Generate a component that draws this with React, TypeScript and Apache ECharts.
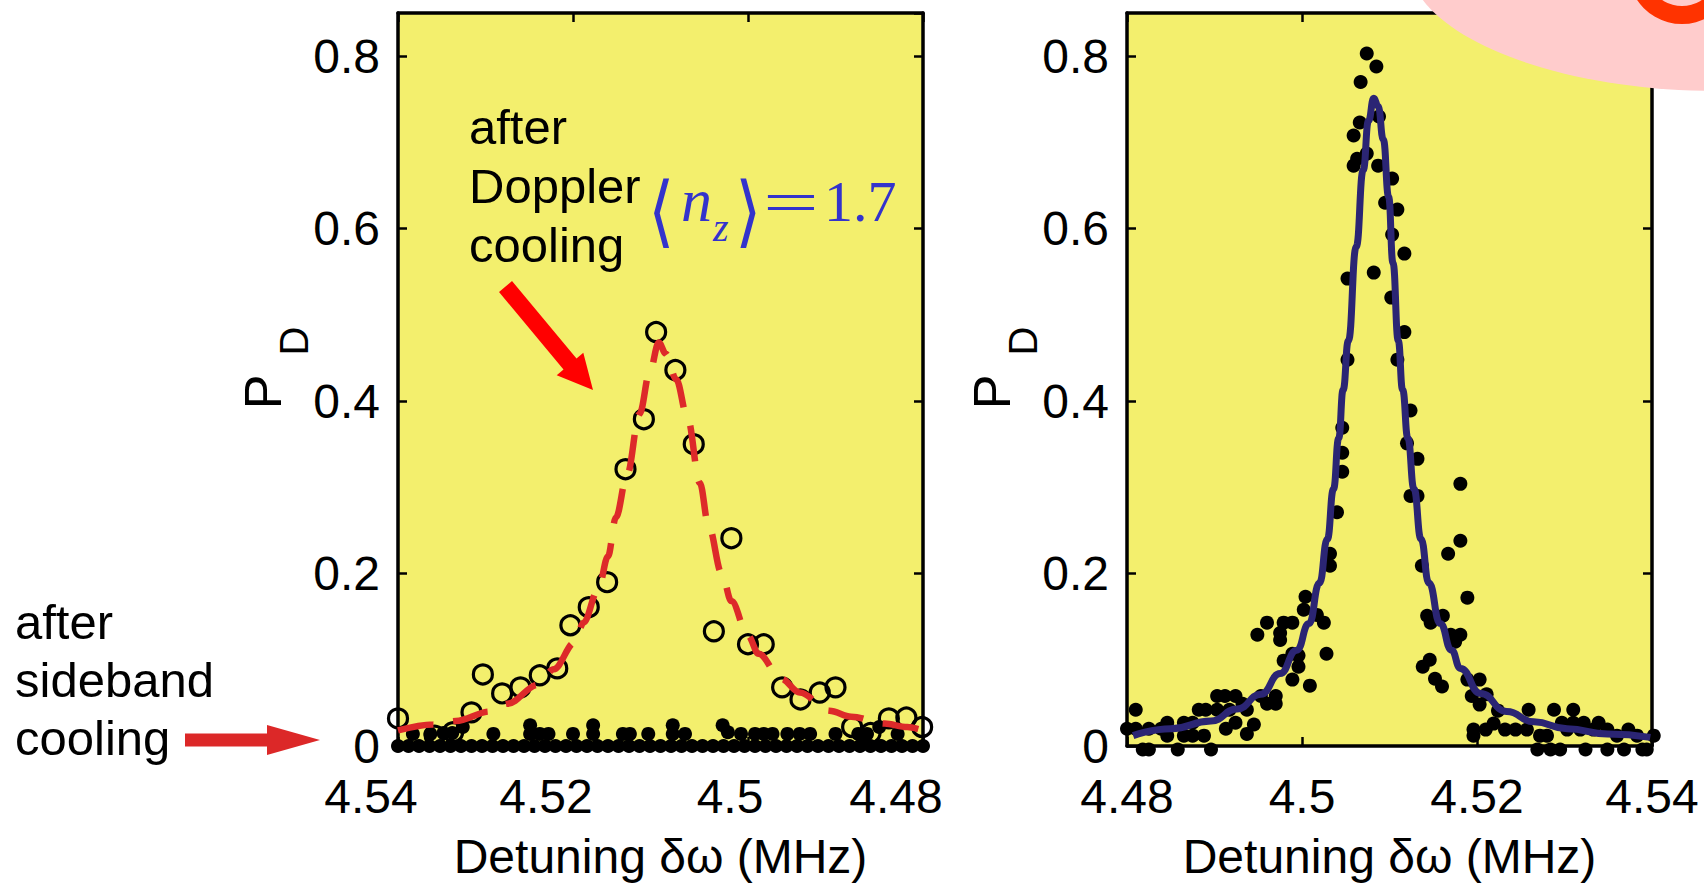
import React, { useEffect, useRef } from 'react';
import * as echarts from 'echarts';

// ---------- data ----------
const xTickValues = [4.48, 4.5, 4.52, 4.54];
const yTickValues = [0, 0.2, 0.4, 0.6, 0.8];

// left panel: after Doppler cooling (open circles)
const dopplerPoints: [number, number][] = [
  [4.5400, 0.032], [4.5358, 0.012], [4.5337, 0.016], [4.5316, 0.039], [4.5303, 0.083],
  [4.5281, 0.061], [4.5260, 0.068], [4.5238, 0.082], [4.5218, 0.090], [4.5203, 0.140],
  [4.5182, 0.161], [4.5161, 0.190], [4.5140, 0.321], [4.5119, 0.379], [4.5105, 0.480],
  [4.5083, 0.436], [4.5062, 0.350], [4.5039, 0.133], [4.5019, 0.241], [4.5000, 0.118],
  [4.4982, 0.118], [4.4961, 0.068], [4.4940, 0.054], [4.4918, 0.062], [4.4900, 0.068],
  [4.4881, 0.022], [4.4860, 0.015], [4.4839, 0.032], [4.4819, 0.033], [4.4801, 0.022],
];

// left panel: dashed fit curve
const dopplerFit: [number, number][] = [
  [4.5400, 0.018], [4.5360, 0.025], [4.5334, 0.029], [4.5295, 0.040], [4.5275, 0.049],
  [4.5240, 0.071], [4.5222, 0.089], [4.5198, 0.120], [4.5188, 0.143], [4.5171, 0.182],
  [4.5160, 0.220], [4.5151, 0.265], [4.5138, 0.315], [4.5124, 0.385], [4.5112, 0.435],
  [4.5102, 0.468], [4.5094, 0.455], [4.5082, 0.425], [4.5069, 0.380], [4.5055, 0.305],
  [4.5045, 0.255], [4.5030, 0.200], [4.5019, 0.168], [4.5000, 0.128], [4.4988, 0.107],
  [4.4962, 0.078], [4.4941, 0.062], [4.4907, 0.041], [4.4882, 0.034], [4.4844, 0.026],
  [4.4818, 0.022], [4.4800, 0.018],
];

// left panel: after sideband cooling (filled dots), row on zero
const sidebandZeroX: number[] = [
  4.5400, 4.5388, 4.5376, 4.5364, 4.5352, 4.5340, 4.5328, 4.5316, 4.5304, 4.5292,
  4.5280, 4.5268, 4.5256, 4.5244, 4.5232, 4.5220, 4.5208, 4.5196, 4.5184, 4.5172,
  4.5160, 4.5148, 4.5136, 4.5124, 4.5112, 4.5100, 4.5088, 4.5076, 4.5064, 4.5052,
  4.5040, 4.5028, 4.5016, 4.5004, 4.4992, 4.4980, 4.4968, 4.4956, 4.4944, 4.4932,
  4.4920, 4.4908, 4.4896, 4.4884, 4.4872, 4.4860, 4.4848, 4.4836, 4.4824, 4.4812,
  4.4800,
];

// left panel: sideband dots slightly above zero
const sidebandRaised: [number, number][] = [
  [4.5383, 0.014], [4.5363, 0.014], [4.5348, 0.015], [4.5338, 0.015], [4.5326, 0.022],
  [4.5291, 0.014], [4.5249, 0.024], [4.5249, 0.014], [4.5238, 0.014], [4.5228, 0.014],
  [4.5200, 0.014], [4.5177, 0.024], [4.5177, 0.014], [4.5143, 0.014], [4.5135, 0.014],
  [4.5114, 0.014], [4.5086, 0.024], [4.5086, 0.014], [4.5072, 0.014], [4.5029, 0.024],
  [4.5023, 0.016], [4.5008, 0.014], [4.4992, 0.014], [4.4982, 0.014], [4.4972, 0.014],
  [4.4955, 0.014], [4.4941, 0.014], [4.4929, 0.014], [4.4900, 0.014], [4.4874, 0.014],
  [4.4864, 0.014], [4.4850, 0.022], [4.4829, 0.014],
];

// right panel: measured points
const rightDots: [number, number][] = [
  // peak
  [4.5074, 0.803], [4.5085, 0.788], [4.5067, 0.770], [4.5088, 0.730], [4.5066, 0.723],
  [4.5059, 0.708], [4.5074, 0.687], [4.5063, 0.681], [4.5059, 0.673], [4.5087, 0.673],
  [4.5103, 0.658], [4.5095, 0.630], [4.5109, 0.622], [4.5103, 0.593], [4.5117, 0.571],
  [4.5082, 0.549], [4.5052, 0.542], [4.5102, 0.520], [4.5117, 0.480], [4.5052, 0.448],
  [4.5109, 0.448], [4.5124, 0.389], [4.5046, 0.369],
  // lower left
  [4.4800, 0.020], [4.4810, 0.042], [4.4810, 0.020], [4.4818, -0.004], [4.4825, -0.004],
  [4.4825, 0.020], [4.4839, 0.020], [4.4846, 0.027], [4.4846, 0.012], [4.4858, -0.004],
  [4.4865, 0.027], [4.4865, 0.012], [4.4875, 0.027], [4.4875, 0.012], [4.4882, 0.042],
  [4.4890, 0.042], [4.4888, 0.012], [4.4896, -0.004], [4.4903, 0.058], [4.4912, 0.058],
  [4.4903, 0.042], [4.4913, 0.020], [4.4917, 0.042], [4.4924, 0.058], [4.4924, 0.027],
  [4.4932, 0.049], [4.4937, 0.042], [4.4937, 0.014], [4.4945, 0.025], [4.4949, 0.129],
  [4.4953, 0.058], [4.4960, 0.143], [4.4960, 0.049], [4.4970, 0.049], [4.4970, 0.058],
  [4.4975, 0.131], [4.4975, 0.123], [4.4979, 0.143], [4.4989, 0.143], [4.4979, 0.099],
  [4.4989, 0.107], [4.4996, 0.092], [4.4989, 0.077], [4.4996, 0.105], [4.5004, 0.173],
  [4.5002, 0.158], [4.5017, 0.152], [4.5025, 0.143], [4.5028, 0.107], [4.5009, 0.070],
  [4.5032, 0.223], [4.5032, 0.209], [4.5040, 0.271], [4.5046, 0.318], [4.5046, 0.340],
  // lower right
  [4.5120, 0.351], [4.5132, 0.333], [4.5124, 0.290], [4.5132, 0.290], [4.5181, 0.304],
  [4.5181, 0.238], [4.5167, 0.223], [4.5137, 0.209], [4.5189, 0.172], [4.5143, 0.151],
  [4.5147, 0.143], [4.5161, 0.151], [4.5170, 0.129], [4.5181, 0.129], [4.5175, 0.121],
  [4.5146, 0.100], [4.5138, 0.092], [4.5152, 0.078], [4.5160, 0.069], [4.5189, 0.077],
  [4.5203, 0.077], [4.5194, 0.058], [4.5211, 0.060], [4.5203, 0.048], [4.5224, 0.041],
  [4.5196, 0.019], [4.5196, 0.012], [4.5210, 0.019], [4.5219, 0.026], [4.5232, 0.019],
  [4.5244, 0.019], [4.5259, 0.042], [4.5257, 0.019], [4.5272, 0.012], [4.5280, 0.012],
  [4.5288, 0.042], [4.5310, 0.042], [4.5297, 0.027], [4.5310, 0.027], [4.5322, 0.027],
  [4.5339, 0.027], [4.5349, 0.019], [4.5373, 0.019], [4.5402, 0.012], [4.5269, -0.004],
  [4.5284, -0.004], [4.5295, -0.004], [4.5324, -0.004], [4.5349, -0.004], [4.5368, -0.004],
  [4.5389, -0.004], [4.5394, -0.004], [4.5303, 0.019], [4.5318, 0.019], [4.5333, 0.019],
  [4.5360, 0.012], [4.5383, 0.012],
];

// right panel: solid fit curve
const rightFit: [number, number][] = [
  [4.4807, 0.012], [4.4850, 0.020], [4.4896, 0.029], [4.4926, 0.043], [4.4953, 0.060],
  [4.4975, 0.084], [4.4994, 0.111], [4.5008, 0.142], [4.5020, 0.189], [4.5029, 0.240],
  [4.5036, 0.298], [4.5042, 0.357], [4.5047, 0.413], [4.5053, 0.470], [4.5062, 0.579],
  [4.5070, 0.668], [4.5076, 0.725], [4.5082, 0.751], [4.5087, 0.742], [4.5093, 0.703],
  [4.5099, 0.637], [4.5104, 0.560], [4.5110, 0.470], [4.5115, 0.413], [4.5121, 0.357],
  [4.5128, 0.298], [4.5136, 0.240], [4.5145, 0.189], [4.5158, 0.142], [4.5171, 0.111],
  [4.5181, 0.090], [4.5204, 0.061], [4.5234, 0.040], [4.5265, 0.028], [4.5303, 0.020],
  [4.5349, 0.014], [4.5398, 0.010],
];

// ---------- styling ----------
const FONT = '"Liberation Sans", Arial, Helvetica, sans-serif';
const SERIF = '"Liberation Serif", "Times New Roman", serif';
const YELLOW = '#f3ef6d';
const X_MIN = xTickValues[0];
const X_MAX = xTickValues[xTickValues.length - 1];
const Y_MAX = 0.85;

const fmtX = (v: number) => String(parseFloat(v.toFixed(2)));
const fmtY = (v: number) => {
  const r = parseFloat(v.toFixed(2));
  if (!yTickValues.some((t) => Math.abs(t - r) < 1e-9)) return '';
  return r === 0 ? '0' : r.toFixed(1);
};

const tickStyle = { show: true, inside: true, length: 9, lineStyle: { color: '#000', width: 2.5 } };
const lineStyle = { show: true, onZero: false, lineStyle: { color: '#000', width: 3.5 } };

function xAxes(gridIndex: number, inverse: boolean, shifted: boolean) {
  const labelBase = { fontSize: 48, fontFamily: FONT, color: '#000' };
  return [
    {
      type: 'value', gridIndex, min: X_MIN, max: X_MAX, interval: 0.02, inverse, position: 'bottom',
      axisLine: lineStyle, axisTick: tickStyle, splitLine: { show: false },
      axisLabel: {
        show: true, margin: 26, showMinLabel: true, showMaxLabel: true,
        ...labelBase,
        formatter: (v: number) => {
          const s = fmtX(v);
          if (!shifted) return `{a|${s}}`;
          return s === '4.5' ? `{c|${s}}` : `{b|${s}}`;
        },
        rich: {
          a: { ...labelBase },
          b: { ...labelBase, padding: [0, 54, 0, 0] },
          c: { ...labelBase, padding: [0, 36, 0, 0] },
        },
      },
      name: 'Detuning δω (MHz)', nameLocation: 'middle', nameGap: 86,
      nameTextStyle: { color: '#000', fontSize: 48, fontFamily: FONT },
    },
    {
      type: 'value', gridIndex, min: X_MIN, max: X_MAX, interval: 0.02, inverse, position: 'top',
      axisLine: lineStyle, axisTick: tickStyle, axisLabel: { show: false }, splitLine: { show: false },
    },
  ];
}

function yAxes(gridIndex: number) {
  return [
    {
      type: 'value', gridIndex, min: 0, max: Y_MAX, interval: 0.2, position: 'left',
      axisLine: lineStyle, axisTick: tickStyle, splitLine: { show: false },
      axisLabel: {
        show: true, margin: 18, showMaxLabel: false, formatter: fmtY,
        fontSize: 48, fontFamily: FONT, color: '#000',
      },
    },
    {
      type: 'value', gridIndex, min: 0, max: Y_MAX, interval: 0.2, position: 'right',
      axisLine: lineStyle, axisTick: tickStyle, axisLabel: { show: false }, splitLine: { show: false },
    },
  ];
}

function pdLabel(dx: number) {
  return [
    {
      type: 'text', x: 263 + dx, y: 392, rotation: Math.PI / 2, z: 60,
      style: { text: 'P', fontSize: 52, fontFamily: FONT, fill: '#000', align: 'center', verticalAlign: 'middle' },
    },
    {
      type: 'text', x: 294 + dx, y: 341, rotation: Math.PI / 2, z: 60,
      style: { text: 'D', fontSize: 40, fontFamily: FONT, fill: '#000', align: 'center', verticalAlign: 'middle' },
    },
  ];
}

const dotStyle = { color: '#000', opacity: 1 };

function buildOption(): any {
  const BLUE = '#3333cc';
  return {
    animation: false,
    backgroundColor: '#ffffff',
    grid: [
      { left: 398, top: 13, width: 525, height: 733, show: true, backgroundColor: YELLOW, borderWidth: 0 },
      { left: 1127, top: 13, width: 525, height: 733, show: true, backgroundColor: YELLOW, borderWidth: 0 },
    ],
    xAxis: [...xAxes(0, true, true), ...xAxes(1, false, false)],
    yAxis: [...yAxes(0), ...yAxes(1)],
    series: [
      {
        type: 'scatter', xAxisIndex: 0, yAxisIndex: 0, silent: true, clip: false, z: 3,
        symbol: 'circle', symbolSize: 14, itemStyle: dotStyle,
        data: sidebandZeroX.map((x) => [x, 0]),
      },
      {
        type: 'scatter', xAxisIndex: 0, yAxisIndex: 0, silent: true, clip: false, z: 3,
        symbol: 'circle', symbolSize: 14, itemStyle: dotStyle,
        data: sidebandRaised,
      },
      {
        type: 'scatter', xAxisIndex: 0, yAxisIndex: 0, silent: true, clip: false, z: 4,
        symbol: 'circle', symbolSize: 19,
        itemStyle: { color: 'rgba(0,0,0,0)', borderColor: '#000', borderWidth: 3.2, opacity: 1 },
        data: dopplerPoints,
      },
      {
        type: 'line', xAxisIndex: 0, yAxisIndex: 0, silent: true, clip: false, z: 5,
        smooth: 0.35, smoothMonotone: 'x', showSymbol: false, symbol: 'none',
        lineStyle: { color: '#dd2a2a', width: 6.5, type: [36, 20], cap: 'butt', opacity: 1 },
        data: dopplerFit,
      },
      {
        type: 'scatter', xAxisIndex: 2, yAxisIndex: 2, silent: true, clip: false, z: 3,
        symbol: 'circle', symbolSize: 14, itemStyle: dotStyle,
        data: rightDots,
      },
      {
        type: 'line', xAxisIndex: 2, yAxisIndex: 2, silent: true, clip: false, z: 5,
        smooth: 0.5, smoothMonotone: 'x', showSymbol: false, symbol: 'none',
        lineStyle: { color: '#2b2574', width: 7, opacity: 1 },
        data: rightFit,
      },
    ],
    graphic: {
      elements: [
        // decoration at top right (part of a neighbouring figure)
        { type: 'ellipse', z: 50, shape: { cx: 1720, cy: -40, rx: 312, ry: 131 }, style: { fill: '#ffcccc' } },
        { type: 'ring', z: 51, shape: { cx: 1682, cy: -30, r: 54, r0: 36 }, style: { fill: '#ff3300' } },
        // y-axis titles
        ...pdLabel(0),
        ...pdLabel(729),
        // annotation: after Doppler cooling
        {
          type: 'text', x: 469, y: 97, z: 60,
          style: {
            text: 'after\nDoppler\ncooling', fontSize: 49, fontFamily: FONT, fill: '#000',
            lineHeight: 59, align: 'left', verticalAlign: 'top',
          },
        },
        {
          type: 'polygon', z: 60,
          shape: { points: [[512, 281], [576.5, 358.5], [583.3, 352.8], [593, 390], [556.7, 375.2], [563.5, 369.5], [499, 292]] },
          style: { fill: '#ff0000' },
        },
        // <n_z> = 1.7
        { type: 'text', x: 648, y: 211, z: 60, scaleY: 1.15, style: { text: '⟨', fontSize: 68, fontFamily: '"DejaVu Serif", serif', fill: BLUE, align: 'left', verticalAlign: 'middle' } },
        { type: 'text', x: 681, y: 200, z: 60, style: { text: 'n', fontSize: 62, fontStyle: 'italic', fontFamily: SERIF, fill: BLUE, align: 'left', verticalAlign: 'middle' } },
        { type: 'text', x: 713, y: 227, z: 60, style: { text: 'z', fontSize: 40, fontStyle: 'italic', fontFamily: SERIF, fill: BLUE, align: 'left', verticalAlign: 'middle' } },
        { type: 'text', x: 735, y: 211, z: 60, scaleY: 1.15, style: { text: '⟩', fontSize: 68, fontFamily: '"DejaVu Serif", serif', fill: BLUE, align: 'left', verticalAlign: 'middle' } },
        { type: 'text', x: 763, y: 202, z: 60, scaleX: 1.65, style: { text: '=', fontSize: 60, fontFamily: SERIF, fill: BLUE, align: 'left', verticalAlign: 'middle' } },
        { type: 'text', x: 824, y: 201, z: 60, style: { text: '1.7', fontSize: 58, fontFamily: SERIF, fill: BLUE, align: 'left', verticalAlign: 'middle' } },
        // annotation: after sideband cooling
        {
          type: 'text', x: 15, y: 593, z: 60,
          style: {
            text: 'after\nsideband\ncooling', fontSize: 49, fontFamily: FONT, fill: '#000',
            lineHeight: 58, align: 'left', verticalAlign: 'top',
          },
        },
        {
          type: 'polygon', z: 60,
          shape: { points: [[185, 733.5], [267, 733.5], [267, 725], [320, 740], [267, 755], [267, 746.5], [185, 746.5]] },
          style: { fill: '#dc2828' },
        },
      ],
    },
  };
}

export default function App() {
  const ref = useRef<HTMLDivElement>(null);
  useEffect(() => {
    document.body.style.margin = '0';
    if (!ref.current) return;
    const chart = echarts.init(ref.current, undefined, { renderer: 'svg' });
    chart.setOption(buildOption());
    return () => {
      chart.dispose();
    };
  }, []);
  return <div ref={ref} style={{ width: 1704, height: 887 }} />;
}
